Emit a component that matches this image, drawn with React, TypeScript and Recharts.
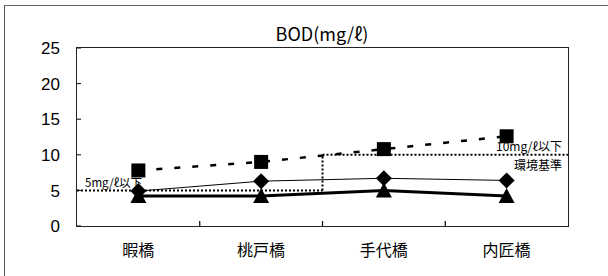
import React from 'react';
import {
    LineChart,
    Line,
    XAxis,
    YAxis,
    ReferenceLine
} from 'recharts';

// 地点
const sites = ['暇橋', '桃戸橋', '手代橋', '内匠橋'];

// BOD 値 (mg/ℓ)
const squareValues = [7.8, 9.0, 10.8, 12.6];
const diamondValues = [4.9, 6.3, 6.7, 6.4];
const triangleValues = [4.2, 4.2, 5.0, 4.2];

const yTicks = [0, 5, 10, 15, 20, 25];
const yMax = 25;
const xMax = sites.length;

// 環境基準 (区間は地点の境界で 0〜4)
const standardSteps = [
    { from: 0, to: 2, y: 5 },
    { from: 2, to: 4, y: 10 },
];

const chartData = sites.map((site, i) => ({
    site,
    pos: i + 0.5,
    sq: squareValues[i],
    dia: diamondValues[i],
    tri: triangleValues[i],
}));

const JP_FONT = '"Noto Sans CJK JP", "Noto Sans", sans-serif';
const Y_GAP = 17;
const X_GAP = 16;
const FRAME = '#222';

// レイアウト
const W = 608;
const H = 276;
const M_TOP = 48;
const M_RIGHT = 40;
const Y_AXIS_W = 77;
const X_AXIS_H = 50;

const YTick = (props: any) => {
    const { x, y, payload } = props;
    const axisX = x + Y_GAP;
    return (
        <g>
            <line x1={axisX} x2={axisX + 4} y1={y} y2={y} stroke="#000" strokeWidth={1} />
            <text x={x} y={y} dy="0.36em" textAnchor="end" fontSize={17}
                  fontFamily='"Liberation Sans", Arial, sans-serif' fill="#000">
                {payload.value}
            </text>
        </g>
    );
};

const XTick = (props: any) => {
    const { x, y, payload, index, width, visibleTicksCount } = props;
    const axisY = y - X_GAP;
    const half = Number(width) / (2 * Number(visibleTicksCount || xMax));
    return (
        <g>
            {index > 0 && Number.isFinite(half) && (
                <line x1={x - half} x2={x - half} y1={axisY} y2={axisY - 5} stroke="#000" strokeWidth={1.2} />
            )}
            <text x={x} y={y} dy="0.85em" textAnchor="middle" fontSize={16}
                  fontFamily={JP_FONT} fill="#000">
                {payload.value}
            </text>
        </g>
    );
};

const SquareDot = (props: any) => {
    const { cx, cy } = props;
    return <rect x={cx - 7} y={cy - 7} width={14} height={14} fill="#000" />;
};

const DiamondDot = (props: any) => {
    const { cx, cy } = props;
    return <polygon points={`${cx},${cy - 8} ${cx + 8},${cy} ${cx},${cy + 8} ${cx - 8},${cy}`} fill="#000" />;
};

const TriangleDot = (props: any) => {
    const { cx, cy } = props;
    return <polygon points={`${cx},${cy - 8} ${cx + 8},${cy + 7} ${cx - 8},${cy + 7}`} fill="#000" />;
};

const LowLabel = (props: any) => {
    const { viewBox } = props;
    return (
        <text x={viewBox.x + 8} y={viewBox.y - 3} fontSize={11.5} fontFamily={JP_FONT} fill="#000">
            5mg/ℓ以下
        </text>
    );
};

const HighLabel = (props: any) => {
    const { viewBox } = props;
    const right = viewBox.x + viewBox.width - 6;
    return (
        <g fontSize={12} fontFamily={JP_FONT} fill="#000" textAnchor="end">
            <text x={right} y={viewBox.y - 4}>10mg/ℓ以下</text>
            <text x={right} y={viewBox.y + 15}>環境基準</text>
        </g>
    );
};

const App = () => {
    return (
        <div style={{ position: 'absolute', left: 0, top: 0, width: W, height: H, background: '#fff' }}>
            <div style={{
                position: 'absolute', left: 4, top: 5, right: 0, bottom: 0,
                borderTop: '1.5px solid #666', borderLeft: '1.5px solid #555'
            }} />
            <div style={{
                position: 'absolute', left: 222, width: 200, top: 22, textAlign: 'center',
                fontFamily: JP_FONT, fontSize: 18, lineHeight: '22px', color: '#000'
            }}>
                BOD(mg/ℓ)
            </div>
            <LineChart
                width={W}
                height={H}
                data={chartData}
                margin={{ top: M_TOP, right: M_RIGHT, left: 0, bottom: 0 }}
                style={{ position: 'absolute', left: 0, top: 0 }}
            >
                <XAxis
                    dataKey="site"
                    scale="band"
                    height={X_AXIS_H}
                    axisLine={false}
                    tickLine={false}
                    tickSize={0}
                    tickMargin={X_GAP}
                    tick={<XTick />}
                    interval={0}
                />
                <XAxis
                    xAxisId="num"
                    dataKey="pos"
                    type="number"
                    orientation="top"
                    domain={[0, xMax]}
                    allowDataOverflow
                    height={0}
                    tick={false}
                    tickLine={false}
                    axisLine={false}
                />
                <YAxis
                    domain={[0, yMax]}
                    ticks={yTicks}
                    width={Y_AXIS_W}
                    axisLine={false}
                    tickLine={false}
                    tickSize={0}
                    tickMargin={Y_GAP}
                    tick={<YTick />}
                    interval={0}
                />

                {/* 環境基準 */}
                <ReferenceLine
                    xAxisId="num"
                    segment={[{ x: standardSteps[0].from, y: standardSteps[0].y }, { x: standardSteps[0].to, y: standardSteps[0].y }]}
                    stroke="#000" strokeWidth={2} strokeDasharray="2 2" ifOverflow="visible"
                    label={<LowLabel />}
                />
                <ReferenceLine
                    xAxisId="num"
                    segment={[{ x: standardSteps[0].to, y: standardSteps[0].y }, { x: standardSteps[1].from, y: standardSteps[1].y }]}
                    stroke="#000" strokeWidth={2} strokeDasharray="2 2" ifOverflow="visible"
                />
                <ReferenceLine
                    xAxisId="num"
                    segment={[{ x: standardSteps[1].from, y: standardSteps[1].y }, { x: standardSteps[1].to, y: standardSteps[1].y }]}
                    stroke="#000" strokeWidth={2} strokeDasharray="2 2" ifOverflow="visible"
                    label={<HighLabel />}
                />

                <Line dataKey="sq" stroke="#000" strokeWidth={2.5} strokeDasharray="6 12"
                      dot={<SquareDot />} activeDot={false} isAnimationActive={false} />
                <Line dataKey="dia" stroke="#000" strokeWidth={1} type="linear"
                      dot={<DiamondDot />} activeDot={false} isAnimationActive={false} />
                <Line dataKey="tri" stroke="#000" strokeWidth={3} type="linear"
                      dot={<TriangleDot />} activeDot={false} isAnimationActive={false} />
            </LineChart>
            {/* プロット領域の枠 */}
            <div style={{
                position: 'absolute', left: Y_AXIS_W - 1, top: M_TOP - 1,
                width: W - Y_AXIS_W - M_RIGHT, height: H - M_TOP - X_AXIS_H,
                border: `1.5px solid ${FRAME}`, pointerEvents: 'none'
            }} />
        </div>
    );
};

export default App;
